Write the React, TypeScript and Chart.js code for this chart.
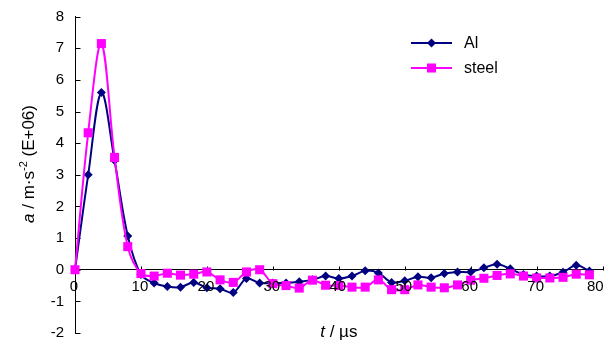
import React, { useEffect, useRef } from "react";
import { Chart, registerables } from "chart.js";

Chart.register(...registerables);

const times = [0, 2, 4, 6, 8, 10, 12, 14, 16, 18, 20, 22, 24, 26, 28, 30, 32, 34, 36, 38, 40, 42, 44, 46, 48, 50, 52, 54, 56, 58, 60, 62, 64, 66, 68, 70, 72, 74, 76, 78];
const alValues = [0, 3.0, 5.6, 3.45, 1.07, -0.15, -0.42, -0.53, -0.55, -0.4, -0.57, -0.6, -0.72, -0.28, -0.42, -0.42, -0.42, -0.38, -0.32, -0.2, -0.28, -0.2, -0.03, -0.1, -0.4, -0.35, -0.22, -0.25, -0.12, -0.07, -0.07, 0.06, 0.17, 0.03, -0.15, -0.2, -0.2, -0.08, 0.14, -0.04];
const steelValues = [0, 4.33, 7.15, 3.55, 0.73, -0.12, -0.2, -0.11, -0.17, -0.14, -0.07, -0.32, -0.4, -0.07, 0.0, -0.44, -0.5, -0.58, -0.33, -0.49, -0.5, -0.55, -0.55, -0.32, -0.63, -0.63, -0.48, -0.55, -0.57, -0.48, -0.33, -0.27, -0.18, -0.13, -0.2, -0.26, -0.26, -0.24, -0.14, -0.16];
const seriesNames = ["Al", "steel"];
const xTickLabels = [0, 10, 20, 30, 40, 50, 60, 70, 80];
const yTickValues = [-2, -1, 0, 1, 2, 3, 4, 5, 6, 7, 8];

const AL_COLOR = "#000080";
const STEEL_COLOR = "#FF00FF";
const FONT = '"Liberation Sans", Arial, sans-serif';

const decorPlugin = {
  id: "decor",
  beforeDatasetsDraw(chart: any) {
    const { ctx, scales } = chart;
    const xs = scales.x;
    const ys = scales.y;
    ctx.save();
    ctx.strokeStyle = "#000";
    ctx.lineWidth = 1;
    const ax = Math.round(xs.getPixelForValue(0)) + 0.5;
    const zy = Math.round(ys.getPixelForValue(0)) + 0.5;
    ctx.beginPath();
    for (const v of yTickValues) {
      const py = Math.round(ys.getPixelForValue(v)) + 0.5;
      ctx.moveTo(ax, py);
      ctx.lineTo(ax + 5, py);
    }
    for (const v of xTickLabels) {
      if (v === 0) continue;
      const px = Math.round(xs.getPixelForValue(v)) + 0.5;
      ctx.moveTo(px, zy);
      ctx.lineTo(px, zy - 4);
    }
    ctx.stroke();
    ctx.restore();
  },
  afterDatasetsDraw(chart: any) {
    const { ctx, scales } = chart;
    const xs = scales.x;
    const ys = scales.y;
    ctx.save();
    // x tick labels at the zero line
    ctx.fillStyle = "#000";
    ctx.font = `15px ${FONT}`;
    ctx.textBaseline = "alphabetic";
    const zy = ys.getPixelForValue(0);
    xTickLabels.forEach((v, i) => {
      const px = xs.getPixelForValue(v);
      const last = i === xTickLabels.length - 1;
      ctx.textAlign = last ? "right" : "center";
      ctx.fillText(String(v), last ? px + 1 : px - 1, zy + 21);
    });

    // legend
    const items = [
      { name: seriesNames[0], color: AL_COLOR, style: "rectRot", r: 4.5, y: 43 },
      { name: seriesNames[1], color: STEEL_COLOR, style: "rect", r: 6, y: 68 },
    ];
    for (const it of items) {
      ctx.strokeStyle = it.color;
      ctx.lineWidth = 2;
      ctx.beginPath();
      ctx.moveTo(411, it.y);
      ctx.lineTo(452, it.y);
      ctx.stroke();
      ctx.fillStyle = it.color;
      (Chart as any).helpers?.drawPoint;
      ctx.beginPath();
      if (it.style === "rect") {
        ctx.rect(431.5 - 4.5, it.y - 4.5, 9, 9);
      } else {
        ctx.moveTo(431.5, it.y - it.r);
        ctx.lineTo(431.5 + it.r, it.y);
        ctx.lineTo(431.5, it.y + it.r);
        ctx.lineTo(431.5 - it.r, it.y);
        ctx.closePath();
      }
      ctx.fill();
      ctx.fillStyle = "#000";
      ctx.font = `16px ${FONT}`;
      ctx.textAlign = "left";
      ctx.textBaseline = "middle";
      ctx.fillText(it.name, 464, it.y + 1);
    }

    // x title
    ctx.textBaseline = "alphabetic";
    const tFont = `italic 17px ${FONT}`;
    const nFont = `17px ${FONT}`;
    ctx.font = tFont;
    const w1 = ctx.measureText("t").width;
    ctx.font = nFont;
    const w2 = ctx.measureText(" / \u00B5s").width;
    const xc = (chart.chartArea.left + chart.chartArea.right) / 2;
    let sx = xc - (w1 + w2) / 2;
    ctx.textAlign = "left";
    ctx.font = tFont;
    ctx.fillText("t", sx, 337);
    ctx.font = nFont;
    ctx.fillText(" / \u00B5s", sx + w1, 337);

    // y title (rotated)
    const segs = [
      { t: "a", f: `italic 17px ${FONT}`, dy: 0 },
      { t: " / m\u00B7s", f: `17px ${FONT}`, dy: 0 },
      { t: "-2", f: `11px ${FONT}`, dy: -6 },
      { t: " (E+06)", f: `17px ${FONT}`, dy: 0 },
    ];
    let total = 0;
    const widths = segs.map((s) => {
      ctx.font = s.f;
      const w = ctx.measureText(s.t).width;
      total += w;
      return w;
    });
    ctx.translate(28.5, 164);
    ctx.rotate(-Math.PI / 2);
    ctx.textBaseline = "middle";
    let cx = -total / 2;
    segs.forEach((s, i) => {
      ctx.font = s.f;
      ctx.fillText(s.t, cx, s.dy + 1);
      cx += widths[i];
    });
    ctx.restore();
  },
};

export default function App() {
  const ref = useRef<HTMLCanvasElement | null>(null);
  useEffect(() => {
    if (!ref.current) return;
    const chart = new Chart(ref.current, {
      type: "line",
      data: {
        datasets: [
          {
            label: seriesNames[0],
            data: times.map((t, i) => ({ x: t, y: alValues[i] })),
            borderColor: AL_COLOR,
            backgroundColor: AL_COLOR,
            borderWidth: 2,
            pointStyle: "rectRot",
            pointRadius: 4.5,
            pointBorderWidth: 0,
            tension: 0.35,
            order: 2,
            clip: false as any,
          },
          {
            label: seriesNames[1],
            data: times.map((t, i) => ({ x: t, y: steelValues[i] })),
            borderColor: STEEL_COLOR,
            backgroundColor: STEEL_COLOR,
            borderWidth: 2,
            pointStyle: "rect",
            pointRadius: 6.4,
            pointBorderWidth: 0,
            tension: 0.35,
            order: 1,
            clip: false as any,
          },
        ],
      },
      options: {
        animation: false,
        responsive: false,
        devicePixelRatio: 1,
        layout: { padding: { top: 16.7, bottom: 7, left: 0, right: 3.3 } },
        plugins: { legend: { display: false }, tooltip: { enabled: false }, title: { display: false } },
        scales: {
          x: {
            type: "linear",
            position: { y: 0 } as any,
            min: 0,
            max: 80,
            ticks: { display: false, stepSize: 10 },
            grid: { display: true, drawOnChartArea: false, drawTicks: false },
            border: { display: true, color: "#000", width: 1 },
            afterFit: (s: any) => {
              s.height = 0;
              s.paddingLeft = 0;
              s.paddingRight = 0;
            },
          },
          y: {
            type: "linear",
            position: "left",
            min: -2,
            max: 8,
            ticks: {
              stepSize: 1,
              color: "#000",
              padding: 11,
              font: { family: FONT, size: 15 },
              callback: (v: any) => String(v),
            },
            grid: { display: true, drawOnChartArea: false, drawTicks: false },
            border: { display: true, color: "#000", width: 1 },
            afterFit: (s: any) => {
              s.width = 75;
              s.paddingTop = 0;
              s.paddingBottom = 0;
            },
          },
        },
      },
      plugins: [decorPlugin],
    });
    return () => chart.destroy();
  }, []);
  return (
    <div style={{ position: "fixed", left: 0, top: 0, width: 609, height: 340, background: "#fff" }}>
      <canvas ref={ref} width={609} height={340} style={{ display: "block" }} />
    </div>
  );
}
